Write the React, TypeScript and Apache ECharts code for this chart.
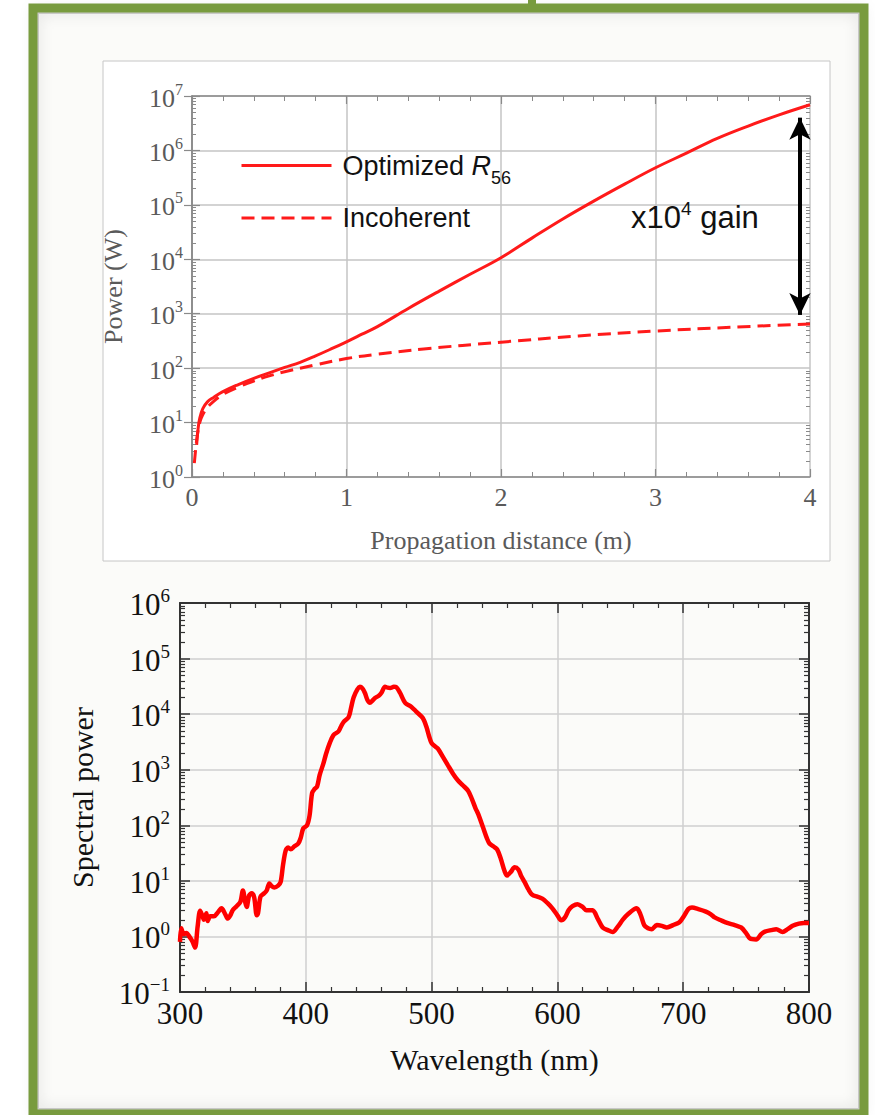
import React, { useEffect, useRef } from 'react';
import * as echarts from 'echarts';

// ---- Top chart: power vs propagation distance ----
const optX = [0.03, 0.04, 0.05, 0.07, 0.1, 0.14, 0.2, 0.3, 0.4, 0.5, 0.6, 0.7, 0.8, 0.9, 1.0, 1.1, 1.2, 1.4, 1.6, 1.8, 2.0, 2.2, 2.4, 2.6, 2.8, 3.0, 3.2, 3.4, 3.6, 3.8, 4.0];
const optY = [3.9, 8, 12, 18, 24, 29, 37, 50, 65, 82, 103, 128, 168, 225, 305, 420, 580, 1250, 2600, 5300, 10700, 24500, 55000, 117000, 240000, 480000, 890000, 1660000, 2800000, 4500000, 6900000];
const incX = [0.015, 0.025, 0.035, 0.05, 0.07, 0.1, 0.15, 0.2, 0.3, 0.4, 0.5, 0.6, 0.8, 1.0, 1.2, 1.5, 2.0, 2.5, 3.0, 3.5, 4.0];
const incY = [1.8, 3.5, 6, 10, 14, 19, 26, 33, 45, 58, 72, 86, 115, 150, 180, 225, 300, 390, 480, 565, 650];
const topXTicks = [0, 1, 2, 3, 4];
const gainArrow = [4.0e6, 950];

// ---- Bottom chart: spectrum ----
const wl = [300, 301, 303, 305, 308, 310, 312, 314, 316, 318, 319, 321, 322, 324, 327, 330, 333, 336, 338, 340, 342, 345, 348, 350, 352, 353, 355, 357, 359, 361, 362, 364, 367, 369, 371, 373, 375, 378, 380, 382, 384, 386, 388, 391, 394, 396, 398, 401, 403, 405, 407, 409, 411, 414, 416, 419, 422, 426, 428, 430, 434, 436, 438, 441, 443, 445, 447, 449, 451, 453, 455, 458, 460, 463, 465, 467, 470, 472, 475, 479, 484, 488, 493, 496, 498, 500, 503, 505, 509, 513, 517, 521, 525, 529, 532, 535, 537, 541, 544, 546, 549, 552, 555, 558, 560, 563, 566, 569, 571, 574, 577, 580, 584, 588, 592, 596, 600, 603, 606, 609, 612, 616, 620, 623, 628, 632, 636, 640, 644, 648, 652, 656, 663, 666, 669, 672, 675, 679, 683, 687, 692, 697, 701, 704, 707, 712, 718, 722, 725, 730, 735, 741, 746, 750, 753, 758, 762, 765, 770, 774, 779, 783, 787, 792, 796, 800];
const spec = [0.8, 1.4, 1.1, 1.15, 0.95, 0.8, 0.63, 1.5, 2.9, 2.3, 2.0, 2.6, 1.9, 2.3, 2.3, 2.7, 3.2, 2.5, 2.1, 2.4, 3.0, 3.5, 4.2, 6.7, 4.0, 3.4, 5.5, 6.0, 5.0, 2.4, 2.6, 5.2, 6.0, 6.8, 9.0, 8.0, 7.6, 8.2, 9.5, 20, 35, 40, 37, 42, 47, 60, 88, 100, 150, 380, 450, 500, 800, 1300, 1900, 3000, 4200, 4900, 6000, 7200, 8800, 13000, 20000, 28000, 31000, 29000, 24000, 18000, 16000, 17500, 19500, 21500, 24000, 31000, 30000, 29500, 31000, 30500, 24000, 16000, 13500, 11000, 8500, 5800, 4000, 3000, 2600, 2400, 1700, 1200, 850, 640, 520, 420, 300, 200, 160, 90, 58, 47, 42, 37, 25, 15, 12.5, 14.5, 17.5, 16, 12.5, 9.5, 7, 5.6, 5.2, 4.8, 4.0, 3.2, 2.4, 1.95, 2.2, 3.0, 3.5, 3.8, 3.4, 2.95, 2.95, 2.1, 1.45, 1.3, 1.2, 1.5, 2.0, 2.5, 3.2, 2.5, 1.6, 1.4, 1.35, 1.6, 1.55, 1.45, 1.6, 1.8, 2.4, 3.1, 3.3, 3.1, 2.8, 2.5, 2.2, 1.95, 1.75, 1.6, 1.45, 1.15, 0.92, 0.88, 1.1, 1.22, 1.3, 1.35, 1.2, 1.35, 1.55, 1.7, 1.75, 1.75];
const bottomXTicks = [300, 400, 500, 600, 700, 800];

const logMinors = (lo: number, hi: number) => {
  const out: number[] = [];
  for (let k = lo; k < hi; k++) for (let m = 2; m <= 9; m++) out.push(m * Math.pow(10, k));
  return out;
};

const expLabel = (v: number) => {
  const e = Math.round(Math.log10(v));
  return '{b|10}{s|' + (e < 0 ? '\u2212' + (-e) : String(e)) + '}';
};

const minorSeries = (xi: number, yi: number, x0: number, vals: number[], len: number, color: string, w: number) => ({
  type: 'custom',
  xAxisIndex: xi,
  yAxisIndex: yi,
  silent: true,
  clip: false,
  z: 3,
  data: vals.map((v) => [x0, v]),
  renderItem: (params: any, api: any) => {
    const p = api.coord([api.value(0), api.value(1)]);
    const cs = params.coordSys;
    const y = Math.round(p[1]) + 0.5;
    return {
      type: 'group',
      children: [
        { type: 'line', shape: { x1: cs.x, y1: y, x2: cs.x + len, y2: y }, style: { stroke: color, lineWidth: w } },
        { type: 'line', shape: { x1: cs.x + cs.width - len, y1: y, x2: cs.x + cs.width, y2: y }, style: { stroke: color, lineWidth: w } },
      ],
    };
  },
});

export default function App() {
  const ref = useRef<HTMLDivElement>(null);
  useEffect(() => {
    if (!ref.current) return;
    const chart = echarts.init(ref.current, null, { renderer: 'svg' });
    const serif = 'Liberation Serif';
    const sans = 'Liberation Sans';
    const topGray = '#5a5a5a';
    const topAxis = '#8a8a8a';
    const topGrid = '#c4c4c4';
    const botAxis = '#333';
    const botGrid = '#cfcfcf';

    const topRich = {
      b: { fontSize: 26, fontFamily: serif, color: topGray, lineHeight: 30, verticalAlign: 'bottom' },
      s: { fontSize: 16, fontFamily: serif, color: topGray, lineHeight: 16, verticalAlign: 'top' },
    };
    const botRich = {
      b: { fontSize: 31, fontFamily: serif, color: '#111', lineHeight: 34, verticalAlign: 'bottom' },
      s: { fontSize: 19, fontFamily: serif, color: '#111', lineHeight: 19, verticalAlign: 'top' },
    };

    const option: any = {
      animation: false,
      backgroundColor: '#ffffff',
      graphic: [
        { type: 'rect', z: -20, shape: { x: 33, y: 8, width: 831, height: 1106 }, style: { fill: '#fbfbf9' } },
        { type: 'rect', z: -19, shape: { x: 36, y: 11, width: 825, height: 1100 }, style: { fill: 'none', stroke: 'rgba(120,120,120,0.35)', lineWidth: 6, shadowBlur: 14, shadowColor: 'rgba(0,0,0,0.35)' } },
        { type: 'rect', z: -18, shape: { x: 103, y: 61, width: 727, height: 500 }, style: { fill: '#ffffff', stroke: '#c6c6c6', lineWidth: 1 } },
        { type: 'rect', z: 20, shape: { x: 33, y: 8, width: 831, height: 1106 }, style: { fill: 'none', stroke: '#789b3e', lineWidth: 9 } },
        { type: 'rect', z: 20, shape: { x: 528, y: 0, width: 8, height: 8 }, style: { fill: '#789b3e' } },
        {
          type: 'text', z: 20, x: 631, y: 216,
          style: {
            text: '{a|x10}{s|4}{a| gain}',
            verticalAlign: 'middle',
            rich: {
              a: { fontSize: 31, fontFamily: sans, fill: '#111', lineHeight: 34, verticalAlign: 'bottom' },
              s: { fontSize: 19, fontFamily: sans, fill: '#111', lineHeight: 19, verticalAlign: 'top' },
            },
          },
        },
      ],
      legend: {
        data: ['Optimized R56', 'Incoherent'],
        orient: 'vertical',
        left: 235,
        top: 147,
        itemWidth: 90,
        itemHeight: 30,
        itemGap: 18,
        selectedMode: false,
        itemStyle: { opacity: 0 },
        lineStyle: { width: 3 },
        formatter: (n: string) => (n === 'Optimized R56' ? '{a|Optimized }{i|R}{sub|56}' : '{a|Incoherent}'),
        textStyle: {
          padding: [0, 0, 0, 6],
          rich: {
            a: { fontSize: 27, fontFamily: sans, color: '#111', lineHeight: 30 },
            i: { fontSize: 27, fontFamily: sans, fontStyle: 'italic', color: '#111', lineHeight: 30 },
            sub: { fontSize: 18, fontFamily: sans, color: '#111', lineHeight: 18, verticalAlign: 'bottom', padding: [0, 0, -6, 0] },
          },
        },
      },
      grid: [
        { left: 192, top: 96, width: 618, height: 381 },
        { left: 180, top: 603, width: 629, height: 389 },
      ],
      xAxis: [
        {
          gridIndex: 0, type: 'value', min: topXTicks[0], max: topXTicks[topXTicks.length - 1], interval: 1,
          name: 'Propagation distance (m)', nameLocation: 'middle', nameGap: 50,
          nameTextStyle: { fontFamily: serif, fontSize: 26, color: topGray },
          axisLine: { lineStyle: { color: topAxis, width: 1.5 } },
          axisTick: { inside: true, length: 8, lineStyle: { color: topAxis, width: 1.2 } },
          minorTick: { show: true, splitNumber: 5, length: 5, lineStyle: { color: topAxis, width: 1 } },
          axisLabel: { margin: 7, fontFamily: serif, fontSize: 26, color: topGray },
          splitLine: { show: true, lineStyle: { color: topGrid, width: 1.5 } },
        },
        {
          gridIndex: 0, type: 'value', position: 'top', min: topXTicks[0], max: topXTicks[topXTicks.length - 1], interval: 1,
          axisLine: { lineStyle: { color: topAxis, width: 1.5 } },
          axisTick: { inside: true, length: 8, lineStyle: { color: topAxis, width: 1.2 } },
          minorTick: { show: true, splitNumber: 5, length: 5, lineStyle: { color: topAxis, width: 1 } },
          axisLabel: { show: false },
          splitLine: { show: false },
        },
        {
          gridIndex: 1, type: 'value', min: bottomXTicks[0], max: bottomXTicks[bottomXTicks.length - 1], interval: 100,
          name: 'Wavelength (nm)', nameLocation: 'middle', nameGap: 52,
          nameTextStyle: { fontFamily: serif, fontSize: 30, color: '#111' },
          axisLine: { lineStyle: { color: botAxis, width: 2 } },
          axisTick: { inside: true, length: 10, lineStyle: { color: botAxis, width: 1.5 } },
          minorTick: { show: true, splitNumber: 5, length: 5, lineStyle: { color: botAxis, width: 1.2 } },
          axisLabel: { margin: 6, fontFamily: serif, fontSize: 31, color: '#111' },
          splitLine: { show: true, lineStyle: { color: botGrid, width: 1.5 } },
        },
        {
          gridIndex: 1, type: 'value', position: 'top', min: bottomXTicks[0], max: bottomXTicks[bottomXTicks.length - 1], interval: 100,
          axisLine: { lineStyle: { color: botAxis, width: 2 } },
          axisTick: { inside: true, length: 10, lineStyle: { color: botAxis, width: 1.5 } },
          minorTick: { show: true, splitNumber: 5, length: 5, lineStyle: { color: botAxis, width: 1.2 } },
          axisLabel: { show: false },
          splitLine: { show: false },
        },
      ],
      yAxis: [
        {
          gridIndex: 0, type: 'log', logBase: 10, min: 1, max: 1e7, interval: 1,
          name: 'Power (W)', nameLocation: 'middle', nameGap: 66,
          nameTextStyle: { fontFamily: serif, fontSize: 26, color: topGray },
          axisLine: { show: true, lineStyle: { color: topAxis, width: 1.5 } },
          axisTick: { show: true, inside: true, length: 8, lineStyle: { color: topAxis, width: 1.2 } },
          axisLabel: { margin: 9, formatter: expLabel, rich: topRich },
          splitLine: { show: true, lineStyle: { color: topGrid, width: 1.5 } },
        },
        {
          gridIndex: 0, type: 'log', logBase: 10, min: 1, max: 1e7, interval: 1, position: 'right',
          axisLine: { show: true, lineStyle: { color: topAxis, width: 1.5 } },
          axisTick: { show: true, inside: true, length: 8, lineStyle: { color: topAxis, width: 1.2 } },
          axisLabel: { show: false },
          splitLine: { show: false },
        },
        {
          gridIndex: 1, type: 'log', logBase: 10, min: 0.1, max: 1e6, interval: 1,
          name: 'Spectral power', nameLocation: 'middle', nameGap: 83,
          nameTextStyle: { fontFamily: serif, fontSize: 30, color: '#111' },
          axisLine: { show: true, lineStyle: { color: botAxis, width: 2 } },
          axisTick: { show: true, inside: true, length: 10, lineStyle: { color: botAxis, width: 1.5 } },
          axisLabel: { margin: 10, formatter: expLabel, rich: botRich },
          splitLine: { show: true, lineStyle: { color: botGrid, width: 1.5 } },
        },
        {
          gridIndex: 1, type: 'log', logBase: 10, min: 0.1, max: 1e6, interval: 1, position: 'right',
          axisLine: { show: true, lineStyle: { color: botAxis, width: 2 } },
          axisTick: { show: true, inside: true, length: 10, lineStyle: { color: botAxis, width: 1.5 } },
          axisLabel: { show: false },
          splitLine: { show: false },
        },
      ],
      series: [
        minorSeries(0, 0, 0, logMinors(0, 7), 4, topAxis, 1),
        minorSeries(2, 2, 300, logMinors(-1, 6), 5, botAxis, 1.2),
        {
          name: 'Optimized R56', type: 'line', xAxisIndex: 0, yAxisIndex: 0, smooth: 0.4, showSymbol: false, symbol: 'none',
          lineStyle: { color: '#ff1a1a', width: 3 }, itemStyle: { color: '#ff1a1a' },
          data: optX.map((x, i) => [x, optY[i]]),
          markLine: {
            silent: true, symbol: ['arrow', 'arrow'], symbolSize: [16, 22],
            label: { show: false },
            lineStyle: { color: '#000', width: 4, type: 'solid' },
            data: [[{ coord: [3.935, gainArrow[0]] }, { coord: [3.935, gainArrow[1]] }]],
          },
        },
        {
          name: 'Incoherent', type: 'line', xAxisIndex: 0, yAxisIndex: 0, smooth: 0.4, showSymbol: false, symbol: 'none',
          lineStyle: { color: '#ff1a1a', width: 3, type: [13, 7] }, itemStyle: { color: '#ff1a1a' },
          data: incX.map((x, i) => [x, incY[i]]),
        },
        {
          name: 'Spectrum', type: 'line', xAxisIndex: 2, yAxisIndex: 2, smooth: 0.3, showSymbol: false, symbol: 'none',
          lineStyle: { color: '#ff0000', width: 4.5 }, itemStyle: { color: '#ff0000' },
          data: wl.map((x, i) => [x, spec[i]]),
        },
      ],
    };
    chart.setOption(option);
    return () => chart.dispose();
  }, []);
  return <div ref={ref} style={{ position: 'absolute', left: 0, top: 0, width: 875, height: 1115 }} />;
}
